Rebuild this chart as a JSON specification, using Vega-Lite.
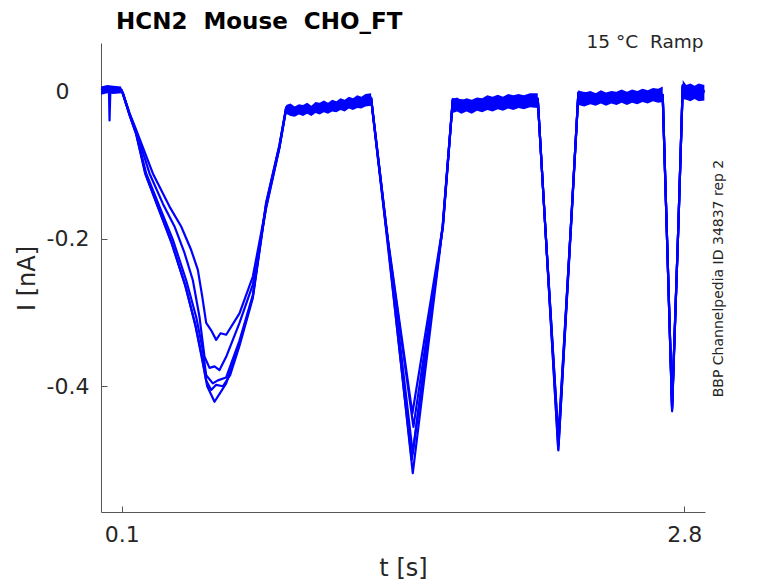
{
  "$schema": "https://vega.github.io/schema/vega-lite/v6.json",
  "width": 604,
  "height": 469,
  "autosize": {"type": "none"},
  "padding": {"left": 101, "top": 43, "right": 73, "bottom": 71},
  "background": "white",
  "title": {
    "text": "HCN2\u00a0\u00a0Mouse\u00a0\u00a0CHO_FT",
    "anchor": "start",
    "frame": "group",
    "dx": 15,
    "offset": -20,
    "baseline": "alphabetic",
    "font": "DejaVu Sans",
    "fontSize": 23,
    "fontWeight": "bold",
    "color": "#000000"
  },
  "datasets": {
    "traces": [
      {"rep": "r1", "t": 0.0, "I": 0.003}, {"rep": "r1", "t": 0.02, "I": 0.004}, {"rep": "r1", "t": 0.038, "I": 0.003},
      {"rep": "r1", "t": 0.041, "I": -0.039}, {"rep": "r1", "t": 0.045, "I": 0.002}, {"rep": "r1", "t": 0.07, "I": 0.004},
      {"rep": "r1", "t": 0.097, "I": 0.002}, {"rep": "r1", "t": 0.105, "I": -0.002}, {"rep": "r1", "t": 0.137, "I": -0.029},
      {"rep": "r1", "t": 0.169, "I": -0.052}, {"rep": "r1", "t": 0.249, "I": -0.111}, {"rep": "r1", "t": 0.329, "I": -0.156},
      {"rep": "r1", "t": 0.385, "I": -0.183}, {"rep": "r1", "t": 0.433, "I": -0.215}, {"rep": "r1", "t": 0.465, "I": -0.242},
      {"rep": "r1", "t": 0.486, "I": -0.278}, {"rep": "r1", "t": 0.505, "I": -0.314}, {"rep": "r1", "t": 0.529, "I": -0.324},
      {"rep": "r1", "t": 0.553, "I": -0.337}, {"rep": "r1", "t": 0.574, "I": -0.328}, {"rep": "r1", "t": 0.601, "I": -0.330},
      {"rep": "r1", "t": 0.665, "I": -0.301}, {"rep": "r1", "t": 0.729, "I": -0.251}, {"rep": "r1", "t": 0.793, "I": -0.156},
      {"rep": "r1", "t": 0.857, "I": -0.075}, {"rep": "r1", "t": 0.889, "I": -0.023}, {"rep": "r1", "t": 1.0, "I": -0.024},
      {"rep": "r1", "t": 1.15, "I": -0.018}, {"rep": "r1", "t": 1.297, "I": -0.009}, {"rep": "r1", "t": 1.369, "I": -0.183},
      {"rep": "r1", "t": 1.495, "I": -0.437}, {"rep": "r1", "t": 1.641, "I": -0.183}, {"rep": "r1", "t": 1.689, "I": -0.011},
      {"rep": "r1", "t": 1.85, "I": -0.018}, {"rep": "r1", "t": 2.097, "I": -0.010}, {"rep": "r1", "t": 2.133, "I": -0.183},
      {"rep": "r1", "t": 2.196, "I": -0.487}, {"rep": "r1", "t": 2.256, "I": -0.183}, {"rep": "r1", "t": 2.292, "I": -0.002},
      {"rep": "r1", "t": 2.5, "I": -0.008}, {"rep": "r1", "t": 2.697, "I": -0.005}, {"rep": "r1", "t": 2.716, "I": -0.183},
      {"rep": "r1", "t": 2.742, "I": -0.434}, {"rep": "r1", "t": 2.772, "I": -0.183}, {"rep": "r1", "t": 2.793, "I": 0.008},
      {"rep": "r1", "t": 2.85, "I": 0.0}, {"rep": "r1", "t": 2.897, "I": 0.0},

      {"rep": "r2", "t": 0.0, "I": 0.002}, {"rep": "r2", "t": 0.05, "I": 0.004}, {"rep": "r2", "t": 0.097, "I": 0.003},
      {"rep": "r2", "t": 0.105, "I": -0.002}, {"rep": "r2", "t": 0.137, "I": -0.030}, {"rep": "r2", "t": 0.169, "I": -0.054},
      {"rep": "r2", "t": 0.233, "I": -0.111}, {"rep": "r2", "t": 0.297, "I": -0.152}, {"rep": "r2", "t": 0.353, "I": -0.183},
      {"rep": "r2", "t": 0.401, "I": -0.219}, {"rep": "r2", "t": 0.441, "I": -0.256}, {"rep": "r2", "t": 0.473, "I": -0.306},
      {"rep": "r2", "t": 0.497, "I": -0.360}, {"rep": "r2", "t": 0.521, "I": -0.375}, {"rep": "r2", "t": 0.545, "I": -0.373},
      {"rep": "r2", "t": 0.569, "I": -0.378}, {"rep": "r2", "t": 0.601, "I": -0.360}, {"rep": "r2", "t": 0.665, "I": -0.314},
      {"rep": "r2", "t": 0.729, "I": -0.262}, {"rep": "r2", "t": 0.793, "I": -0.158}, {"rep": "r2", "t": 0.857, "I": -0.076},
      {"rep": "r2", "t": 0.889, "I": -0.024}, {"rep": "r2", "t": 1.0, "I": -0.025}, {"rep": "r2", "t": 1.15, "I": -0.019},
      {"rep": "r2", "t": 1.297, "I": -0.010}, {"rep": "r2", "t": 1.368, "I": -0.183}, {"rep": "r2", "t": 1.500, "I": -0.455},
      {"rep": "r2", "t": 1.642, "I": -0.183}, {"rep": "r2", "t": 1.689, "I": -0.012}, {"rep": "r2", "t": 1.85, "I": -0.017},
      {"rep": "r2", "t": 2.097, "I": -0.011}, {"rep": "r2", "t": 2.133, "I": -0.183}, {"rep": "r2", "t": 2.197, "I": -0.480},
      {"rep": "r2", "t": 2.257, "I": -0.183}, {"rep": "r2", "t": 2.292, "I": -0.003}, {"rep": "r2", "t": 2.5, "I": -0.009},
      {"rep": "r2", "t": 2.697, "I": -0.006}, {"rep": "r2", "t": 2.716, "I": -0.183}, {"rep": "r2", "t": 2.742, "I": -0.430},
      {"rep": "r2", "t": 2.772, "I": -0.183}, {"rep": "r2", "t": 2.793, "I": 0.006}, {"rep": "r2", "t": 2.897, "I": 0.001},

      {"rep": "r3", "t": 0.0, "I": 0.003}, {"rep": "r3", "t": 0.05, "I": 0.002}, {"rep": "r3", "t": 0.097, "I": 0.003},
      {"rep": "r3", "t": 0.105, "I": -0.003}, {"rep": "r3", "t": 0.137, "I": -0.031}, {"rep": "r3", "t": 0.169, "I": -0.057},
      {"rep": "r3", "t": 0.217, "I": -0.111}, {"rep": "r3", "t": 0.281, "I": -0.156}, {"rep": "r3", "t": 0.345, "I": -0.201},
      {"rep": "r3", "t": 0.409, "I": -0.256}, {"rep": "r3", "t": 0.457, "I": -0.306}, {"rep": "r3", "t": 0.489, "I": -0.351},
      {"rep": "r3", "t": 0.505, "I": -0.385}, {"rep": "r3", "t": 0.537, "I": -0.396}, {"rep": "r3", "t": 0.561, "I": -0.392},
      {"rep": "r3", "t": 0.601, "I": -0.388}, {"rep": "r3", "t": 0.665, "I": -0.338}, {"rep": "r3", "t": 0.729, "I": -0.276},
      {"rep": "r3", "t": 0.793, "I": -0.152}, {"rep": "r3", "t": 0.857, "I": -0.073}, {"rep": "r3", "t": 0.889, "I": -0.022},
      {"rep": "r3", "t": 1.0, "I": -0.023}, {"rep": "r3", "t": 1.15, "I": -0.017}, {"rep": "r3", "t": 1.297, "I": -0.009},
      {"rep": "r3", "t": 1.370, "I": -0.183}, {"rep": "r3", "t": 1.497, "I": -0.491}, {"rep": "r3", "t": 1.640, "I": -0.183},
      {"rep": "r3", "t": 1.689, "I": -0.010}, {"rep": "r3", "t": 1.85, "I": -0.016}, {"rep": "r3", "t": 2.097, "I": -0.009},
      {"rep": "r3", "t": 2.133, "I": -0.183}, {"rep": "r3", "t": 2.196, "I": -0.475}, {"rep": "r3", "t": 2.256, "I": -0.183},
      {"rep": "r3", "t": 2.292, "I": -0.001}, {"rep": "r3", "t": 2.5, "I": -0.007}, {"rep": "r3", "t": 2.697, "I": -0.004},
      {"rep": "r3", "t": 2.716, "I": -0.183}, {"rep": "r3", "t": 2.742, "I": -0.425}, {"rep": "r3", "t": 2.772, "I": -0.183},
      {"rep": "r3", "t": 2.793, "I": 0.007}, {"rep": "r3", "t": 2.897, "I": -0.001},

      {"rep": "r4", "t": 0.0, "I": 0.002}, {"rep": "r4", "t": 0.05, "I": 0.003}, {"rep": "r4", "t": 0.097, "I": 0.002},
      {"rep": "r4", "t": 0.105, "I": -0.003}, {"rep": "r4", "t": 0.137, "I": -0.032}, {"rep": "r4", "t": 0.169, "I": -0.058},
      {"rep": "r4", "t": 0.212, "I": -0.111}, {"rep": "r4", "t": 0.275, "I": -0.158}, {"rep": "r4", "t": 0.338, "I": -0.205},
      {"rep": "r4", "t": 0.403, "I": -0.262}, {"rep": "r4", "t": 0.452, "I": -0.315}, {"rep": "r4", "t": 0.485, "I": -0.360},
      {"rep": "r4", "t": 0.505, "I": -0.392}, {"rep": "r4", "t": 0.529, "I": -0.405}, {"rep": "r4", "t": 0.553, "I": -0.398},
      {"rep": "r4", "t": 0.585, "I": -0.400}, {"rep": "r4", "t": 0.620, "I": -0.385}, {"rep": "r4", "t": 0.665, "I": -0.345},
      {"rep": "r4", "t": 0.729, "I": -0.280}, {"rep": "r4", "t": 0.793, "I": -0.154}, {"rep": "r4", "t": 0.857, "I": -0.074},
      {"rep": "r4", "t": 0.889, "I": -0.023}, {"rep": "r4", "t": 1.0, "I": -0.024}, {"rep": "r4", "t": 1.15, "I": -0.018},
      {"rep": "r4", "t": 1.297, "I": -0.010}, {"rep": "r4", "t": 1.367, "I": -0.183}, {"rep": "r4", "t": 1.492, "I": -0.500},
      {"rep": "r4", "t": 1.641, "I": -0.183}, {"rep": "r4", "t": 1.689, "I": -0.011}, {"rep": "r4", "t": 1.85, "I": -0.017},
      {"rep": "r4", "t": 2.097, "I": -0.010}, {"rep": "r4", "t": 2.133, "I": -0.183}, {"rep": "r4", "t": 2.195, "I": -0.485},
      {"rep": "r4", "t": 2.256, "I": -0.183}, {"rep": "r4", "t": 2.292, "I": -0.002}, {"rep": "r4", "t": 2.5, "I": -0.008},
      {"rep": "r4", "t": 2.697, "I": -0.005}, {"rep": "r4", "t": 2.716, "I": -0.183}, {"rep": "r4", "t": 2.742, "I": -0.432},
      {"rep": "r4", "t": 2.772, "I": -0.183}, {"rep": "r4", "t": 2.793, "I": 0.007}, {"rep": "r4", "t": 2.897, "I": 0.0},

      {"rep": "r5", "t": 0.0, "I": 0.003}, {"rep": "r5", "t": 0.05, "I": 0.003}, {"rep": "r5", "t": 0.097, "I": 0.002},
      {"rep": "r5", "t": 0.105, "I": -0.002}, {"rep": "r5", "t": 0.137, "I": -0.031}, {"rep": "r5", "t": 0.169, "I": -0.056},
      {"rep": "r5", "t": 0.215, "I": -0.113}, {"rep": "r5", "t": 0.279, "I": -0.160}, {"rep": "r5", "t": 0.342, "I": -0.207},
      {"rep": "r5", "t": 0.407, "I": -0.265}, {"rep": "r5", "t": 0.455, "I": -0.320}, {"rep": "r5", "t": 0.490, "I": -0.370},
      {"rep": "r5", "t": 0.510, "I": -0.400}, {"rep": "r5", "t": 0.545, "I": -0.421}, {"rep": "r5", "t": 0.570, "I": -0.410},
      {"rep": "r5", "t": 0.601, "I": -0.396}, {"rep": "r5", "t": 0.665, "I": -0.342}, {"rep": "r5", "t": 0.729, "I": -0.278},
      {"rep": "r5", "t": 0.793, "I": -0.150}, {"rep": "r5", "t": 0.857, "I": -0.072}, {"rep": "r5", "t": 0.889, "I": -0.021},
      {"rep": "r5", "t": 1.0, "I": -0.024}, {"rep": "r5", "t": 1.15, "I": -0.017}, {"rep": "r5", "t": 1.297, "I": -0.008},
      {"rep": "r5", "t": 1.369, "I": -0.183}, {"rep": "r5", "t": 1.497, "I": -0.518}, {"rep": "r5", "t": 1.641, "I": -0.183},
      {"rep": "r5", "t": 1.689, "I": -0.011}, {"rep": "r5", "t": 1.85, "I": -0.018}, {"rep": "r5", "t": 2.097, "I": -0.010},
      {"rep": "r5", "t": 2.133, "I": -0.183}, {"rep": "r5", "t": 2.196, "I": -0.470}, {"rep": "r5", "t": 2.256, "I": -0.183},
      {"rep": "r5", "t": 2.292, "I": -0.002}, {"rep": "r5", "t": 2.5, "I": -0.008}, {"rep": "r5", "t": 2.697, "I": -0.005},
      {"rep": "r5", "t": 2.716, "I": -0.183}, {"rep": "r5", "t": 2.742, "I": -0.428}, {"rep": "r5", "t": 2.772, "I": -0.183},
      {"rep": "r5", "t": 2.793, "I": 0.009}, {"rep": "r5", "t": 2.897, "I": 0.0}
    ],
    "noise": [
      {"seg": "s0", "t": 0.0, "lo": -0.004, "hi": 0.007}, {"seg": "s0", "t": 0.03, "lo": -0.002, "hi": 0.009},
      {"seg": "s0", "t": 0.06, "lo": -0.003, "hi": 0.008}, {"seg": "s0", "t": 0.097, "lo": -0.002, "hi": 0.007},
      {"seg": "s1", "t": 0.889, "lo": -0.030, "hi": -0.018}, {"seg": "s1", "t": 0.91, "lo": -0.033, "hi": -0.016},
      {"seg": "s1", "t": 0.93, "lo": -0.034, "hi": -0.020}, {"seg": "s1", "t": 0.95, "lo": -0.031, "hi": -0.017},
      {"seg": "s1", "t": 0.97, "lo": -0.033, "hi": -0.018}, {"seg": "s1", "t": 0.99, "lo": -0.030, "hi": -0.015},
      {"seg": "s1", "t": 1.01, "lo": -0.033, "hi": -0.019}, {"seg": "s1", "t": 1.03, "lo": -0.029, "hi": -0.014},
      {"seg": "s1", "t": 1.05, "lo": -0.031, "hi": -0.015}, {"seg": "s1", "t": 1.07, "lo": -0.028, "hi": -0.012},
      {"seg": "s1", "t": 1.09, "lo": -0.030, "hi": -0.015}, {"seg": "s1", "t": 1.11, "lo": -0.027, "hi": -0.011},
      {"seg": "s1", "t": 1.13, "lo": -0.028, "hi": -0.013}, {"seg": "s1", "t": 1.15, "lo": -0.025, "hi": -0.009},
      {"seg": "s1", "t": 1.17, "lo": -0.027, "hi": -0.011}, {"seg": "s1", "t": 1.19, "lo": -0.023, "hi": -0.007},
      {"seg": "s1", "t": 1.21, "lo": -0.025, "hi": -0.009}, {"seg": "s1", "t": 1.23, "lo": -0.022, "hi": -0.005},
      {"seg": "s1", "t": 1.25, "lo": -0.023, "hi": -0.007}, {"seg": "s1", "t": 1.27, "lo": -0.020, "hi": -0.003},
      {"seg": "s1", "t": 1.297, "lo": -0.019, "hi": -0.002},
      {"seg": "s2", "t": 1.689, "lo": -0.029, "hi": -0.010}, {"seg": "s2", "t": 1.71, "lo": -0.027, "hi": -0.008},
      {"seg": "s2", "t": 1.73, "lo": -0.030, "hi": -0.012}, {"seg": "s2", "t": 1.755, "lo": -0.027, "hi": -0.009},
      {"seg": "s2", "t": 1.78, "lo": -0.030, "hi": -0.011}, {"seg": "s2", "t": 1.805, "lo": -0.026, "hi": -0.008},
      {"seg": "s2", "t": 1.83, "lo": -0.028, "hi": -0.009}, {"seg": "s2", "t": 1.855, "lo": -0.025, "hi": -0.005},
      {"seg": "s2", "t": 1.88, "lo": -0.027, "hi": -0.007}, {"seg": "s2", "t": 1.905, "lo": -0.024, "hi": -0.004},
      {"seg": "s2", "t": 1.93, "lo": -0.026, "hi": -0.007}, {"seg": "s2", "t": 1.955, "lo": -0.023, "hi": -0.003},
      {"seg": "s2", "t": 1.98, "lo": -0.025, "hi": -0.005}, {"seg": "s2", "t": 2.005, "lo": -0.022, "hi": -0.003},
      {"seg": "s2", "t": 2.03, "lo": -0.024, "hi": -0.005}, {"seg": "s2", "t": 2.06, "lo": -0.021, "hi": -0.002},
      {"seg": "s2", "t": 2.097, "lo": -0.022, "hi": -0.002},
      {"seg": "s3", "t": 2.292, "lo": -0.018, "hi": 0.002}, {"seg": "s3", "t": 2.32, "lo": -0.020, "hi": -0.001},
      {"seg": "s3", "t": 2.35, "lo": -0.017, "hi": 0.001}, {"seg": "s3", "t": 2.375, "lo": -0.019, "hi": -0.002},
      {"seg": "s3", "t": 2.40, "lo": -0.016, "hi": 0.002}, {"seg": "s3", "t": 2.425, "lo": -0.019, "hi": -0.001},
      {"seg": "s3", "t": 2.45, "lo": -0.016, "hi": 0.001}, {"seg": "s3", "t": 2.475, "lo": -0.018, "hi": 0.000},
      {"seg": "s3", "t": 2.50, "lo": -0.015, "hi": 0.003}, {"seg": "s3", "t": 2.525, "lo": -0.018, "hi": 0.000},
      {"seg": "s3", "t": 2.55, "lo": -0.015, "hi": 0.003}, {"seg": "s3", "t": 2.575, "lo": -0.017, "hi": 0.001},
      {"seg": "s3", "t": 2.60, "lo": -0.014, "hi": 0.004}, {"seg": "s3", "t": 2.625, "lo": -0.016, "hi": 0.002},
      {"seg": "s3", "t": 2.65, "lo": -0.013, "hi": 0.005}, {"seg": "s3", "t": 2.675, "lo": -0.015, "hi": 0.004},
      {"seg": "s3", "t": 2.697, "lo": -0.014, "hi": 0.007},
      {"seg": "s4", "t": 2.793, "lo": -0.010, "hi": 0.016}, {"seg": "s4", "t": 2.81, "lo": -0.011, "hi": 0.009},
      {"seg": "s4", "t": 2.83, "lo": -0.013, "hi": 0.011}, {"seg": "s4", "t": 2.85, "lo": -0.010, "hi": 0.008},
      {"seg": "s4", "t": 2.87, "lo": -0.013, "hi": 0.011}, {"seg": "s4", "t": 2.897, "lo": -0.012, "hi": 0.009}
    ]
  },
  "layer": [
    {
      "data": {"name": "traces"},
      "mark": {"type": "line", "color": "#0000ff", "strokeWidth": 2.2, "strokeJoin": "round"},
      "encoding": {
        "x": {
          "field": "t",
          "type": "quantitative",
          "scale": {"domain": [0, 2.9], "nice": false, "zero": false},
          "axis": {
            "orient": "bottom",
            "values": [0.1, 2.8],
            "format": ".1f",
            "title": "t [s]",
            "titleX": 302,
            "titleY": 56,
            "titleAlign": "center",
            "titleBaseline": "middle",
            "titleAnchor": null
          }
        },
        "y": {
          "field": "I",
          "type": "quantitative",
          "scale": {"domain": [-0.5707, 0.0661], "nice": false, "zero": false},
          "axis": {
            "orient": "left",
            "values": [-0.4, -0.2, 0],
            "labelExpr": "datum.value == 0 ? '0' : '-' + format(abs(datum.value), '.1f')",
            "labelPadding": {"condition": {"test": "datum.value == 0", "value": 38}, "value": 18},
            "title": "I [nA]",
            "titleAngle": 270,
            "titleX": -74,
            "titleY": 235,
            "titleAlign": "center",
            "titleBaseline": "middle",
            "titleAnchor": null
          }
        },
        "detail": {"field": "rep"}
      }
    },
    {
      "data": {"name": "noise"},
      "mark": {"type": "area", "color": "#0000ff", "opacity": 1},
      "encoding": {
        "x": {
          "field": "t",
          "type": "quantitative",
          "scale": {"domain": [0, 2.9], "nice": false, "zero": false},
          "axis": {
            "orient": "top",
            "domain": false,
            "ticks": false,
            "labels": false,
            "title": "15\u00a0°C\u00a0\u00a0Ramp",
            "titleFontSize": 18.5,
            "titleX": 602,
            "titleY": 4,
            "titleAlign": "right",
            "titleBaseline": "alphabetic",
            "titleAnchor": null
          }
        },
        "y": {
          "field": "lo",
          "type": "quantitative",
          "scale": {"domain": [-0.5707, 0.0661], "nice": false, "zero": false},
          "axis": {
            "orient": "right",
            "domain": false,
            "ticks": false,
            "labels": false,
            "title": "BBP Channelpedia ID 34837 rep 2",
            "titleFontSize": 14,
            "titleAngle": 270,
            "titleX": 13,
            "titleY": 235,
            "titleAlign": "center",
            "titleBaseline": "middle",
            "titleAnchor": null
          }
        },
        "y2": {"field": "hi"},
        "detail": {"field": "seg"}
      }
    }
  ],
  "resolve": {"axis": {"x": "independent", "y": "independent"}},
  "config": {
    "view": {"stroke": null},
    "font": "DejaVu Sans",
    "axis": {
      "grid": false,
      "domainColor": "#555555",
      "domainWidth": 1,
      "tickColor": "#555555",
      "tickSize": -6,
      "tickWidth": 1,
      "labelFont": "DejaVu Sans",
      "labelFontSize": 22,
      "labelColor": "#262626",
      "labelPadding": 18,
      "labelFlush": false,
      "labelOverlap": false,
      "titleFont": "DejaVu Sans",
      "titleFontSize": 24,
      "titleFontWeight": "normal",
      "titleColor": "#262626"
    }
  }
}
